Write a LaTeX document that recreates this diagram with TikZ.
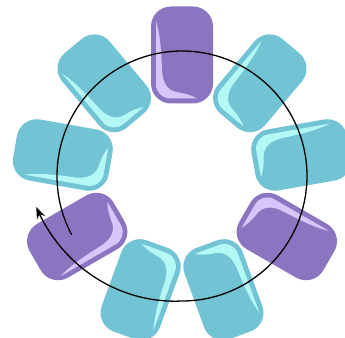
\documentclass[tikz,border=0pt]{standalone}
\usetikzlibrary{arrows.meta}
\definecolor{pillpurple}{RGB}{139,117,193}
\definecolor{shinepurple}{RGB}{214,198,250}
\definecolor{pillcyan}{RGB}{114,195,212}
\definecolor{shinecyan}{RGB}{180,248,245}
\tikzset{
  pillbody/.style={fill=#1},
  pillshine/.style={fill=#1},
  ringline/.style={line width=1.1pt, black, -{Stealth[length=10pt,width=7.5pt]}}
}
\begin{document}
\begin{tikzpicture}[x=0.03cm,y=0.03cm]
\useasboundingbox (0,0) rectangle (345,337);
\coordinate (ctr) at (182,161);
\foreach \a/\body/\shine/\nm in {90/pillpurple/shinepurple/p1, 50/pillcyan/shinecyan/p2, 10/pillcyan/shinecyan/p3, -30/pillpurple/shinepurple/p4, -70/pillcyan/shinecyan/p5, -110/pillcyan/shinecyan/p6, -150/pillpurple/shinepurple/p7, 170/pillcyan/shinecyan/p8, 130/pillcyan/shinecyan/p9}{
  \begin{scope}[shift={({182+121*cos(\a)},{161+121*sin(\a)})}, rotate=\a]
    \coordinate (\nm) at (0,0);
    \fill[pillbody=\body, rounded corners=0.6cm] (-48.5,-31) rectangle (48.5,31);
    \fill[pillshine=\shine] (34,26) -- (-29.5,26)
      .. controls (-37.2,26) and (-43.5,19.7) .. (-43.5,12)
      -- (-43.5,-15)
      .. controls (-39,-7) and (-38,0) .. (-37,6)
      .. controls (-35,15) and (-27,19.5) .. (-15,20)
      .. controls (0,20.5) and (20,21.5) .. (34,26) -- cycle;
  \end{scope}
}
\draw[ringline] plot[domain=208:-168, samples=160, smooth, variable=\t]
  ({182+(125+24*(0.35*max(0,(-90-\t)/78)+0.65*max(0,(-90-\t)/78)^2))*cos(\t)},
   {161+(125+24*(0.35*max(0,(-90-\t)/78)+0.65*max(0,(-90-\t)/78)^2))*sin(\t)});
\end{tikzpicture}
\end{document}
